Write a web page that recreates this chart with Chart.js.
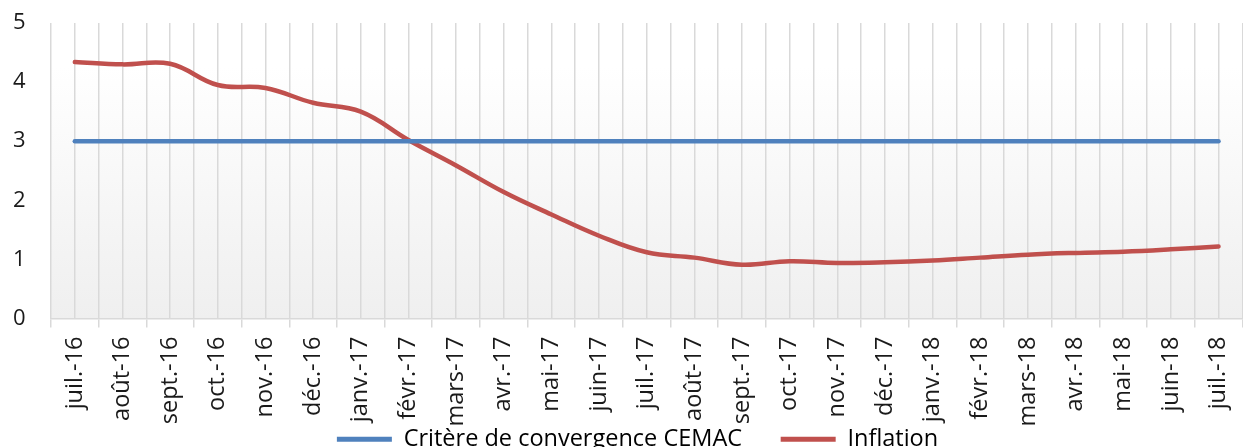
<!DOCTYPE html>
<html lang="fr">
<head>
<meta charset="utf-8">
<title>Inflation et critère de convergence CEMAC</title>
<script src="https://cdn.jsdelivr.net/npm/chart.js@4.4.1/dist/chart.umd.min.js"></script>
<style>
    html, body { margin: 0; padding: 0; background: #ffffff; overflow: hidden; }
</style>
</head>
<body>
<canvas id="inflationChart" width="1256" height="461"></canvas>
<script>
const months = ['juil.-16', 'août-16', 'sept.-16', 'oct.-16', 'nov.-16', 'déc.-16',
    'janv.-17', 'févr.-17', 'mars-17', 'avr.-17', 'mai-17', 'juin-17',
    'juil.-17', 'août-17', 'sept.-17', 'oct.-17', 'nov.-17', 'déc.-17',
    'janv.-18', 'févr.-18', 'mars-18', 'avr.-18', 'mai-18', 'juin-18', 'juil.-18'];
const critere = [3, 3, 3, 3, 3, 3, 3, 3, 3, 3, 3, 3, 3, 3, 3, 3, 3, 3, 3, 3, 3, 3, 3, 3, 3];
const inflation = [4.34, 4.30, 4.31, 3.95, 3.90, 3.65, 3.50, 3.02, 2.59, 2.14, 1.76, 1.40,
    1.12, 1.03, 0.91, 0.97, 0.94, 0.95, 0.98, 1.03, 1.08, 1.11, 1.13, 1.17, 1.22];
const yTicks = [0, 1, 2, 3, 4, 5];

document.addEventListener("DOMContentLoaded", function () {
    const ctx = document.getElementById("inflationChart");
    Chart.defaults.font.family = "'Open Sans', sans-serif";
    Chart.defaults.color = '#1a1a1a';

    // fond dégradé de la zone de tracé
    const plotBackground = {
        id: 'plotBackground',
        beforeDraw(chart) {
            const a = chart.chartArea;
            const c = chart.ctx;
            const g = c.createLinearGradient(0, a.top, 0, a.bottom);
            g.addColorStop(0, '#ffffff');
            g.addColorStop(0.15, '#ffffff');
            g.addColorStop(1, '#efefef');
            c.save();
            c.fillStyle = g;
            c.fillRect(a.left, a.top, a.right - a.left, a.bottom - a.top);
            c.restore();
        }
    };

    // espaces insécables pour l'écart entre les entrées de la légende
    const pads = ['\u00a0\u00a0\u00a0\u00a0\u00a0\u00a0', '\u00a0\u00a0\u00a0'];

    new Chart(ctx, {
        type: 'line',
        data: {
            labels: months,
            datasets: [{
                label: 'Critère de convergence CEMAC',
                data: critere,
                borderColor: '#4f81bd',
                backgroundColor: '#4f81bd',
                borderWidth: 4.5,
                pointRadius: 0,
                borderCapStyle: 'round',
                tension: 0
            }, {
                label: 'Inflation',
                data: inflation,
                borderColor: '#c0504d',
                backgroundColor: '#c0504d',
                borderWidth: 4.5,
                pointRadius: 0,
                borderCapStyle: 'round',
                borderJoinStyle: 'round',
                tension: 0.4
            }]
        },
        options: {
            responsive: false,
            animation: false,
            layout: { padding: { top: 23, left: 13, right: 5, bottom: 0 } },
            scales: {
                x: {
                    type: 'category',
                    offset: true,
                    grid: { offset: true, color: '#d9d9d9', lineWidth: 1.5, tickLength: 9 },
                    border: { color: '#d9d9d9', width: 1.5 },
                    ticks: {
                        autoSkip: false, minRotation: 90, maxRotation: 90,
                        padding: 9, font: { size: 23.5 }
                    },
                    afterFit: s => { s.height = 107; }
                },
                x2: {
                    type: 'category',
                    position: 'top',
                    labels: months,
                    offset: true,
                    grid: { offset: false, drawTicks: false, color: '#d9d9d9', lineWidth: 1.5 },
                    border: { display: false },
                    ticks: { display: false },
                    afterFit: s => { s.height = 0; }
                },
                y: {
                    min: 0,
                    max: 5,
                    grid: { display: false, drawTicks: false },
                    border: { display: false },
                    ticks: {
                        stepSize: 1, padding: 0, crossAlign: 'far', font: { size: 22 },
                        callback: v => yTicks.includes(v) ? v : ''
                    },
                    afterFit: s => { s.width = 38; }
                }
            },
            plugins: {
                tooltip: { enabled: false },
                legend: {
                    position: 'bottom',
                    fullSize: false,
                    labels: {
                        boxWidth: 55,
                        boxHeight: 5,
                        padding: 2,
                        color: '#1a1a1a',
                        font: { size: 23.5 },
                        generateLabels: chart => chart.data.datasets.map((ds, i) => ({
                            text: ds.label + pads[i],
                            fillStyle: ds.borderColor,
                            strokeStyle: ds.borderColor,
                            lineWidth: 0,
                            datasetIndex: i
                        }))
                    }
                }
            }
        },
        plugins: [plotBackground]
    });
});
</script>
</body>
</html>
